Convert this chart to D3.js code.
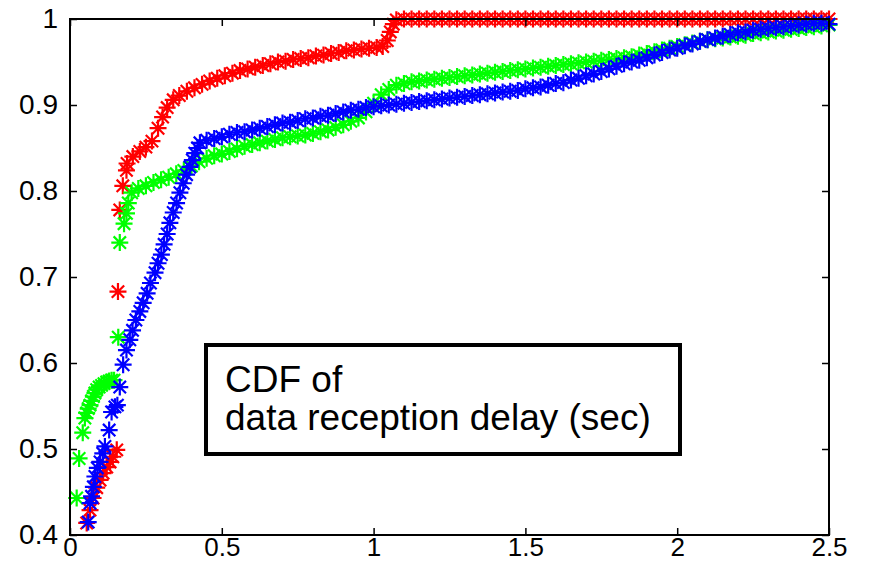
<!DOCTYPE html>
<html>
<head>
<meta charset="utf-8">
<script src="https://cdn.jsdelivr.net/npm/d3@7"></script>
<style>
body { margin: 0; background: #fff; }
text { font-family: "Liberation Sans", Arial, Helvetica, sans-serif; }
</style>
</head>
<body>
<svg width="869" height="563"></svg>
<script>
// ticks
var xTicks = [0, 0.5, 1, 1.5, 2, 2.5];
var xTickLabels = ["0", "0.5", "1", "1.5", "2", "2.5"];
var yTicks = [0.4, 0.5, 0.6, 0.7, 0.8, 0.9, 1];
var yTickLabels = ["0.4", "0.5", "0.6", "0.7", "0.8", "0.9", "1"];

var noteLines = ["CDF of", "data reception delay (sec)"];

// [delay (sec), cdf]
var redPoints = [
  [0.055,0.414],[0.066,0.429],[0.076,0.443],[0.088,0.455],[0.099,0.464],[0.109,0.472],
  [0.121,0.479],[0.132,0.485],[0.141,0.491],[0.154,0.499],
  [0.158,0.683],[0.164,0.778],[0.174,0.806],[0.186,0.824],
  [0.188,0.832],[0.207,0.840],[0.23,0.846],[0.25,0.851],[0.27,0.858],[0.29,0.873],
  [0.305,0.886],[0.32,0.897],[0.34,0.906],[0.36,0.911],[0.385,0.916],[0.41,0.920],
  [0.435,0.924],[0.46,0.928],[0.485,0.931],[0.51,0.934],[0.535,0.937],[0.56,0.940],
  [0.585,0.942],[0.61,0.944],[0.635,0.946],[0.66,0.948],[0.685,0.950],[0.71,0.951],
  [0.735,0.953],[0.76,0.954],[0.785,0.955],[0.81,0.957],[0.835,0.958],[0.86,0.960],
  [0.885,0.961],[0.91,0.963],[0.935,0.964],[0.96,0.965],[0.985,0.966],[1.01,0.967],
  [1.03,0.968],[1.045,0.975],[1.055,0.985],[1.065,0.994],[1.075,0.999],
  [1.1,1],[1.125,1],[1.15,1],[1.175,1],[1.2,1],[1.225,1],[1.25,1],[1.275,1],[1.3,1],
  [1.325,1],[1.35,1],[1.375,1],[1.4,1],[1.425,1],[1.45,1],[1.475,1],[1.5,1],[1.525,1],
  [1.55,1],[1.575,1],[1.6,1],[1.625,1],[1.65,1],[1.675,1],[1.7,1],[1.725,1],[1.75,1],
  [1.775,1],[1.8,1],[1.825,1],[1.85,1],[1.875,1],[1.9,1],[1.925,1],[1.95,1],[1.975,1],
  [2,1],[2.025,1],[2.05,1],[2.075,1],[2.1,1],[2.125,1],[2.15,1],[2.175,1],[2.2,1],
  [2.225,1],[2.25,1],[2.275,1],[2.3,1],[2.325,1],[2.35,1],[2.375,1],[2.4,1],[2.425,1],
  [2.45,1],[2.475,1],[2.5,1]
];

var greenPoints = [
  [0.022,0.443],[0.030,0.489],[0.042,0.519],[0.049,0.536],[0.055,0.542],[0.060,0.547],
  [0.066,0.551],[0.071,0.556],[0.077,0.561],[0.082,0.565],[0.088,0.569],[0.096,0.572],
  [0.104,0.574],[0.112,0.576],[0.121,0.578],[0.129,0.579],[0.137,0.580],[0.145,0.580],
  [0.159,0.630],[0.164,0.740],[0.178,0.762],[0.186,0.774],[0.192,0.786],[0.203,0.798],
  [0.225,0.803],[0.25,0.806],[0.275,0.810],[0.3,0.813],[0.325,0.816],[0.35,0.820],
  [0.375,0.824],[0.4,0.829],[0.425,0.834],[0.45,0.838],[0.475,0.841],[0.5,0.843],
  [0.525,0.846],[0.55,0.849],[0.575,0.852],[0.6,0.854],[0.625,0.856],[0.65,0.858],
  [0.675,0.860],[0.7,0.862],[0.725,0.863],[0.75,0.864],[0.775,0.865],[0.8,0.867],
  [0.825,0.869],[0.85,0.871],[0.875,0.874],[0.9,0.877],[0.925,0.881],[0.95,0.885],
  [0.975,0.892],[1,0.902],[1.025,0.912],[1.05,0.918],[1.075,0.923],[1.1,0.925],
  [1.125,0.927],[1.15,0.928],[1.175,0.929],[1.2,0.930],[1.225,0.931],[1.25,0.932],
  [1.275,0.933],[1.3,0.934],[1.325,0.935],[1.35,0.936],[1.375,0.937],[1.4,0.938],
  [1.425,0.939],[1.45,0.940],[1.475,0.941],[1.5,0.942],[1.525,0.943],[1.55,0.944],
  [1.575,0.945],[1.6,0.946],[1.625,0.947],[1.65,0.948],[1.675,0.949],[1.7,0.950],
  [1.725,0.951],[1.75,0.952],[1.775,0.953],[1.8,0.954],[1.825,0.955],[1.85,0.956],
  [1.875,0.958],[1.9,0.960],[1.925,0.962],[1.95,0.964],[1.975,0.966],[2,0.968],
  [2.025,0.970],[2.05,0.972],[2.075,0.974],[2.1,0.976],[2.125,0.977],[2.15,0.978],
  [2.175,0.979],[2.2,0.980],[2.225,0.981],[2.25,0.983],[2.275,0.984],[2.3,0.985],
  [2.325,0.986],[2.35,0.987],[2.375,0.988],[2.4,0.989],[2.425,0.990],[2.45,0.991],
  [2.475,0.992],[2.5,0.993]
];

var bluePoints = [
  [0.060,0.415],[0.066,0.437],[0.071,0.445],[0.077,0.456],[0.082,0.468],[0.090,0.478],
  [0.099,0.485],[0.108,0.495],[0.115,0.503],[0.129,0.522],[0.137,0.543],[0.148,0.549],
  [0.156,0.551],[0.164,0.572],[0.175,0.598],[0.186,0.615],[0.197,0.627],[0.206,0.638],
  [0.217,0.650],[0.230,0.660],[0.241,0.670],[0.254,0.681],[0.265,0.693],[0.280,0.705],
  [0.290,0.716],[0.301,0.726],[0.310,0.738],[0.320,0.750],[0.329,0.763],[0.340,0.775],
  [0.351,0.786],[0.362,0.798],[0.373,0.809],[0.384,0.819],[0.395,0.828],[0.403,0.836],
  [0.411,0.844],[0.420,0.850],[0.428,0.856],
  [0.45,0.859],[0.475,0.861],[0.5,0.863],[0.525,0.866],[0.55,0.868],[0.575,0.869],
  [0.6,0.871],[0.625,0.873],[0.65,0.875],[0.675,0.877],[0.7,0.879],[0.725,0.880],
  [0.75,0.882],[0.775,0.884],[0.8,0.885],[0.825,0.887],[0.85,0.888],[0.875,0.890],
  [0.9,0.892],[0.925,0.894],[0.95,0.895],[0.975,0.897],[1,0.898],[1.025,0.899],
  [1.05,0.900],[1.075,0.901],[1.1,0.902],[1.125,0.903],[1.15,0.904],[1.175,0.905],
  [1.2,0.906],[1.225,0.907],[1.25,0.908],[1.275,0.909],[1.3,0.910],[1.325,0.911],
  [1.35,0.912],[1.375,0.913],[1.4,0.914],[1.425,0.915],[1.45,0.916],[1.475,0.917],
  [1.5,0.919],[1.525,0.920],[1.55,0.921],[1.575,0.923],[1.6,0.925],[1.625,0.926],
  [1.65,0.929],[1.675,0.931],[1.7,0.934],[1.725,0.936],[1.75,0.939],[1.775,0.942],
  [1.8,0.945],[1.825,0.948],[1.85,0.950],[1.875,0.952],[1.9,0.955],[1.925,0.958],
  [1.95,0.961],[1.975,0.964],[2,0.966],[2.025,0.969],[2.05,0.971],[2.075,0.974],
  [2.1,0.976],[2.125,0.978],[2.15,0.980],[2.175,0.982],[2.2,0.984],[2.225,0.985],
  [2.25,0.987],[2.275,0.988],[2.3,0.989],[2.325,0.990],[2.35,0.991],[2.375,0.992],
  [2.4,0.993],[2.425,0.994],[2.45,0.995],[2.475,0.995],[2.5,0.994]
];

var series = [
  {name: "red", color: "#ff0000", points: redPoints},
  {name: "green", color: "#00ff00", points: greenPoints},
  {name: "blue", color: "#0000ff", points: bluePoints}
];

var margin = {top: 19, right: 40, bottom: 28, left: 70};
var width = 869 - margin.left - margin.right;
var height = 563 - margin.top - margin.bottom;

var xScale = d3.scaleLinear().domain([0, 2.5]).range([0, width]);
var yScale = d3.scaleLinear().domain([0.4, 1]).range([height, 0]);

var svg = d3.select('svg');
var g = svg.append('g')
  .attr('transform', 'translate(' + margin.left + ',' + margin.top + ')');

// asterisk marker (plus + cross)
var a = 8.5, b = 6.2;
var star = 'M' + (-a) + ',0H' + a + 'M0,' + (-a) + 'V' + a +
  'M' + (-b) + ',' + (-b) + 'L' + b + ',' + b +
  'M' + (-b) + ',' + b + 'L' + b + ',' + (-b);

series.forEach(function(s) {
  g.append('g')
    .attr('class', s.name)
    .selectAll('path')
    .data(s.points)
    .enter()
    .append('path')
    .attr('d', star)
    .attr('transform', d => 'translate(' + xScale(d[0]) + ',' + yScale(d[1]) + ')')
    .attr('stroke', s.color)
    .attr('stroke-width', 2.2)
    .attr('fill', 'none');
});

// axes, ticks pointing inward
function styleAxis(sel, showLabels, size) {
  sel.select('.domain').remove();
  sel.selectAll('line').attr('stroke', '#000').attr('stroke-width', 1.5);
  sel.selectAll('text')
    .attr('font-size', size)
    .attr('fill', '#000')
    .style('font-family', '"Liberation Sans", Arial, Helvetica, sans-serif')
    .attr('display', showLabels ? null : 'none');
}

g.append('g')
  .attr('transform', 'translate(0,' + height + ')')
  .call(d3.axisBottom(xScale).tickValues(xTicks).tickSize(-7).tickPadding(3)
    .tickFormat((d, i) => xTickLabels[i]))
  .call(s => styleAxis(s, true, 26));

g.append('g')
  .call(d3.axisTop(xScale).tickValues(xTicks).tickSize(-7).tickFormat(''))
  .call(s => styleAxis(s, false, 26));

g.append('g')
  .call(d3.axisLeft(yScale).tickValues(yTicks).tickSize(-7).tickPadding(12)
    .tickFormat((d, i) => yTickLabels[i]))
  .call(s => styleAxis(s, true, 28));

g.append('g')
  .attr('transform', 'translate(' + width + ',0)')
  .call(d3.axisRight(yScale).tickValues(yTicks).tickSize(-7).tickFormat(''))
  .call(s => styleAxis(s, false, 28));

g.append('rect')
  .attr('x', 0).attr('y', 0)
  .attr('width', width).attr('height', height)
  .attr('fill', 'none')
  .attr('stroke', '#000')
  .attr('stroke-width', 2);

// annotation box
svg.append('rect')
  .attr('x', 206).attr('y', 345)
  .attr('width', 474).attr('height', 109)
  .attr('fill', '#fff')
  .attr('stroke', '#000')
  .attr('stroke-width', 4);

svg.selectAll('.note')
  .data(noteLines)
  .enter()
  .append('text')
  .attr('class', 'note')
  .attr('x', 225)
  .attr('y', (d, i) => 392 + i * 38)
  .attr('font-size', 37)
  .attr('fill', '#000')
  .text(d => d);
</script>
</body>
</html>
